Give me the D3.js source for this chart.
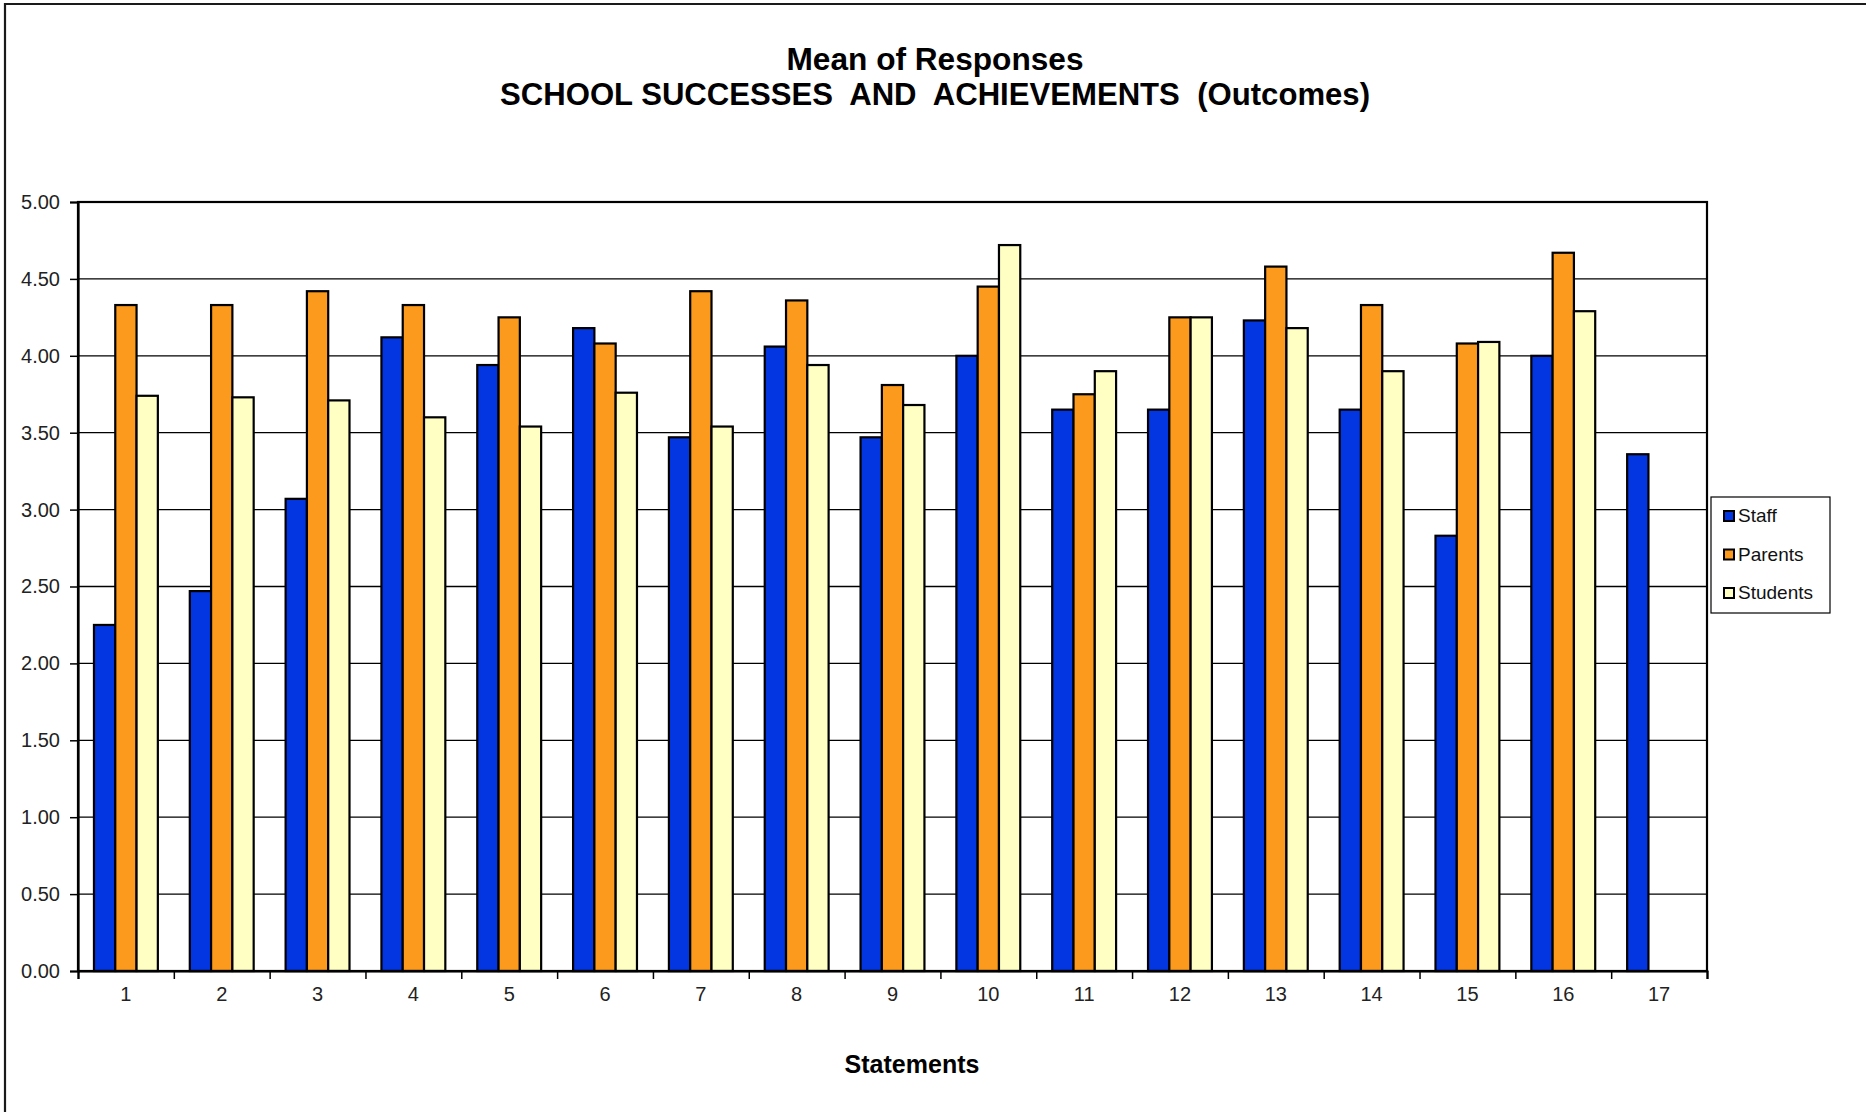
<!DOCTYPE html>
<html>
<head>
<meta charset="utf-8">
<title>Mean of Responses</title>
<script src="https://cdn.jsdelivr.net/npm/d3@7"></script>
<style>
  html, body { margin: 0; padding: 0; background: #ffffff; }
  svg { display: block; font-family: "Liberation Sans", Arial, sans-serif; }
</style>
</head>
<body>
<svg id="chart" width="1866" height="1112"></svg>
<script>
// Statement numbers along the x axis
const statements = ["1","2","3","4","5","6","7","8","9","10","11","12","13","14","15","16","17"];

// Respondent groups
const seriesNames = ["Staff", "Parents", "Students"];
const seriesColors = ["#0336e0", "#fb9a1c", "#ffffc4"];

// Mean response per statement for each group (null = no response)
const staff    = [2.25, 2.47, 3.07, 4.12, 3.94, 4.18, 3.47, 4.06, 3.47, 4.00, 3.65, 3.65, 4.23, 3.65, 2.83, 4.00, 3.36];
const parents  = [4.33, 4.33, 4.42, 4.33, 4.25, 4.08, 4.42, 4.36, 3.81, 4.45, 3.75, 4.25, 4.58, 4.33, 4.08, 4.67, null];
const students = [3.74, 3.73, 3.71, 3.60, 3.54, 3.76, 3.54, 3.94, 3.68, 4.72, 3.90, 4.25, 4.18, 3.90, 4.09, 4.29, null];

// Value axis ticks
const yTickValues = [0.00, 0.50, 1.00, 1.50, 2.00, 2.50, 3.00, 3.50, 4.00, 4.50, 5.00];

const titleLines = ["Mean of Responses", "SCHOOL SUCCESSES  AND  ACHIEVEMENTS  (Outcomes)"];
const xAxisTitle = "Statements";

const seriesValues = [staff, parents, students];

const svg = d3.select("#chart");
const W = 1866, H = 1112;
const plot = { left: 78, right: 1707, top: 202, bottom: 971 };

svg.append("rect").attr("width", W).attr("height", H).attr("fill", "#ffffff");

// Outer chart frame (left and top edges visible)
svg.append("path")
  .attr("d", `M5,${H} L5,4 L${W},4`)
  .attr("fill", "none").attr("stroke", "#1a1a1a").attr("stroke-width", 2.2);

// Scales
const x = d3.scaleBand()
  .domain(statements)
  .range([plot.left, plot.right])
  .paddingInner(1/3)
  .paddingOuter(1/6);

const xs = d3.scaleBand()
  .domain(seriesNames)
  .range([0, x.bandwidth()])
  .padding(0);

const y = d3.scaleLinear()
  .domain([0, 5])
  .range([plot.bottom, plot.top]);

const color = d3.scaleOrdinal().domain(seriesNames).range(seriesColors);

// Gridlines
svg.append("g")
  .selectAll("line")
  .data(yTickValues.filter(v => v > 0 && v < 5))
  .join("line")
  .attr("x1", plot.left).attr("x2", plot.right)
  .attr("y1", d => y(d)).attr("y2", d => y(d))
  .attr("stroke", "#000").attr("stroke-width", 1.3);

// Bars
const rows = statements.map((s, i) => ({
  statement: s,
  values: seriesNames.map((name, k) => ({ name, value: seriesValues[k][i] }))
}));

svg.append("g")
  .selectAll("g")
  .data(rows)
  .join("g")
  .attr("transform", d => `translate(${x(d.statement)},0)`)
  .selectAll("rect")
  .data(d => d.values.filter(v => v.value != null))
  .join("rect")
  .attr("x", d => xs(d.name))
  .attr("width", xs.bandwidth())
  .attr("y", d => y(d.value))
  .attr("height", d => y(0) - y(d.value))
  .attr("fill", d => color(d.name))
  .attr("stroke", "#000")
  .attr("stroke-width", 2.2);

// Plot area outline
svg.append("rect")
  .attr("x", plot.left).attr("y", plot.top)
  .attr("width", plot.right - plot.left).attr("height", plot.bottom - plot.top)
  .attr("fill", "none").attr("stroke", "#000").attr("stroke-width", 2.2);

// Y axis
const yAxis = svg.append("g")
  .attr("transform", `translate(${plot.left},0)`)
  .call(d3.axisLeft(y).tickValues(yTickValues).tickFormat(d3.format(".2f")).tickSize(8).tickPadding(10));
yAxis.select(".domain").attr("stroke", "#000").attr("stroke-width", 2.2);
yAxis.selectAll(".tick line").attr("stroke", "#000").attr("stroke-width", 1.5);
yAxis.selectAll(".tick text")
  .attr("font-size", 20).attr("fill", "#222")
  .attr("font-family", "Liberation Sans, Arial, sans-serif");

// X axis: tick marks on category boundaries
const xb = d3.scaleLinear().domain([0, statements.length]).range([plot.left, plot.right]);
const xTicks = svg.append("g")
  .attr("transform", `translate(0,${plot.bottom})`)
  .call(d3.axisBottom(xb).tickValues(d3.range(0, statements.length + 1)).tickFormat("").tickSize(8));
xTicks.select(".domain").attr("stroke", "#000").attr("stroke-width", 2.2);
xTicks.selectAll(".tick line").attr("stroke", "#000").attr("stroke-width", 1.5);

// X axis: category labels
const xLabels = svg.append("g")
  .attr("transform", `translate(0,${plot.bottom})`)
  .call(d3.axisBottom(x).tickSize(0).tickPadding(16));
xLabels.select(".domain").remove();
xLabels.selectAll(".tick text")
  .attr("font-size", 20).attr("fill", "#222")
  .attr("font-family", "Liberation Sans, Arial, sans-serif");

// Titles
const titleWidths = [297, 870];
const titleBaselines = [70, 105];
svg.append("g")
  .selectAll("text")
  .data(titleLines)
  .join("text")
  .attr("x", 935)
  .attr("y", (d, i) => titleBaselines[i])
  .attr("text-anchor", "middle")
  .attr("font-size", 32)
  .attr("font-weight", "bold")
  .attr("fill", "#000")
  .attr("textLength", (d, i) => titleWidths[i])
  .attr("lengthAdjust", "spacingAndGlyphs")
  .style("white-space", "pre")
  .text(d => d);

svg.append("text")
  .attr("x", 912).attr("y", 1073)
  .attr("text-anchor", "middle")
  .attr("font-size", 25).attr("font-weight", "bold").attr("fill", "#000")
  .text(xAxisTitle);

// Legend
const legend = svg.append("g").attr("transform", "translate(1711,497)");
legend.append("rect")
  .attr("width", 119).attr("height", 116)
  .attr("fill", "#fff").attr("stroke", "#000").attr("stroke-width", 1.2);
const item = legend.selectAll("g.item")
  .data(seriesNames)
  .join("g")
  .attr("class", "item")
  .attr("transform", (d, i) => `translate(12,${25 + i * 38.5})`);
item.append("rect")
  .attr("x", 1).attr("y", -11).attr("width", 10).attr("height", 10)
  .attr("fill", d => color(d)).attr("stroke", "#000").attr("stroke-width", 2);
item.append("text")
  .attr("x", 15).attr("y", 0)
  .attr("font-size", 19).attr("fill", "#111")
  .text(d => d);
</script>
</body>
</html>
